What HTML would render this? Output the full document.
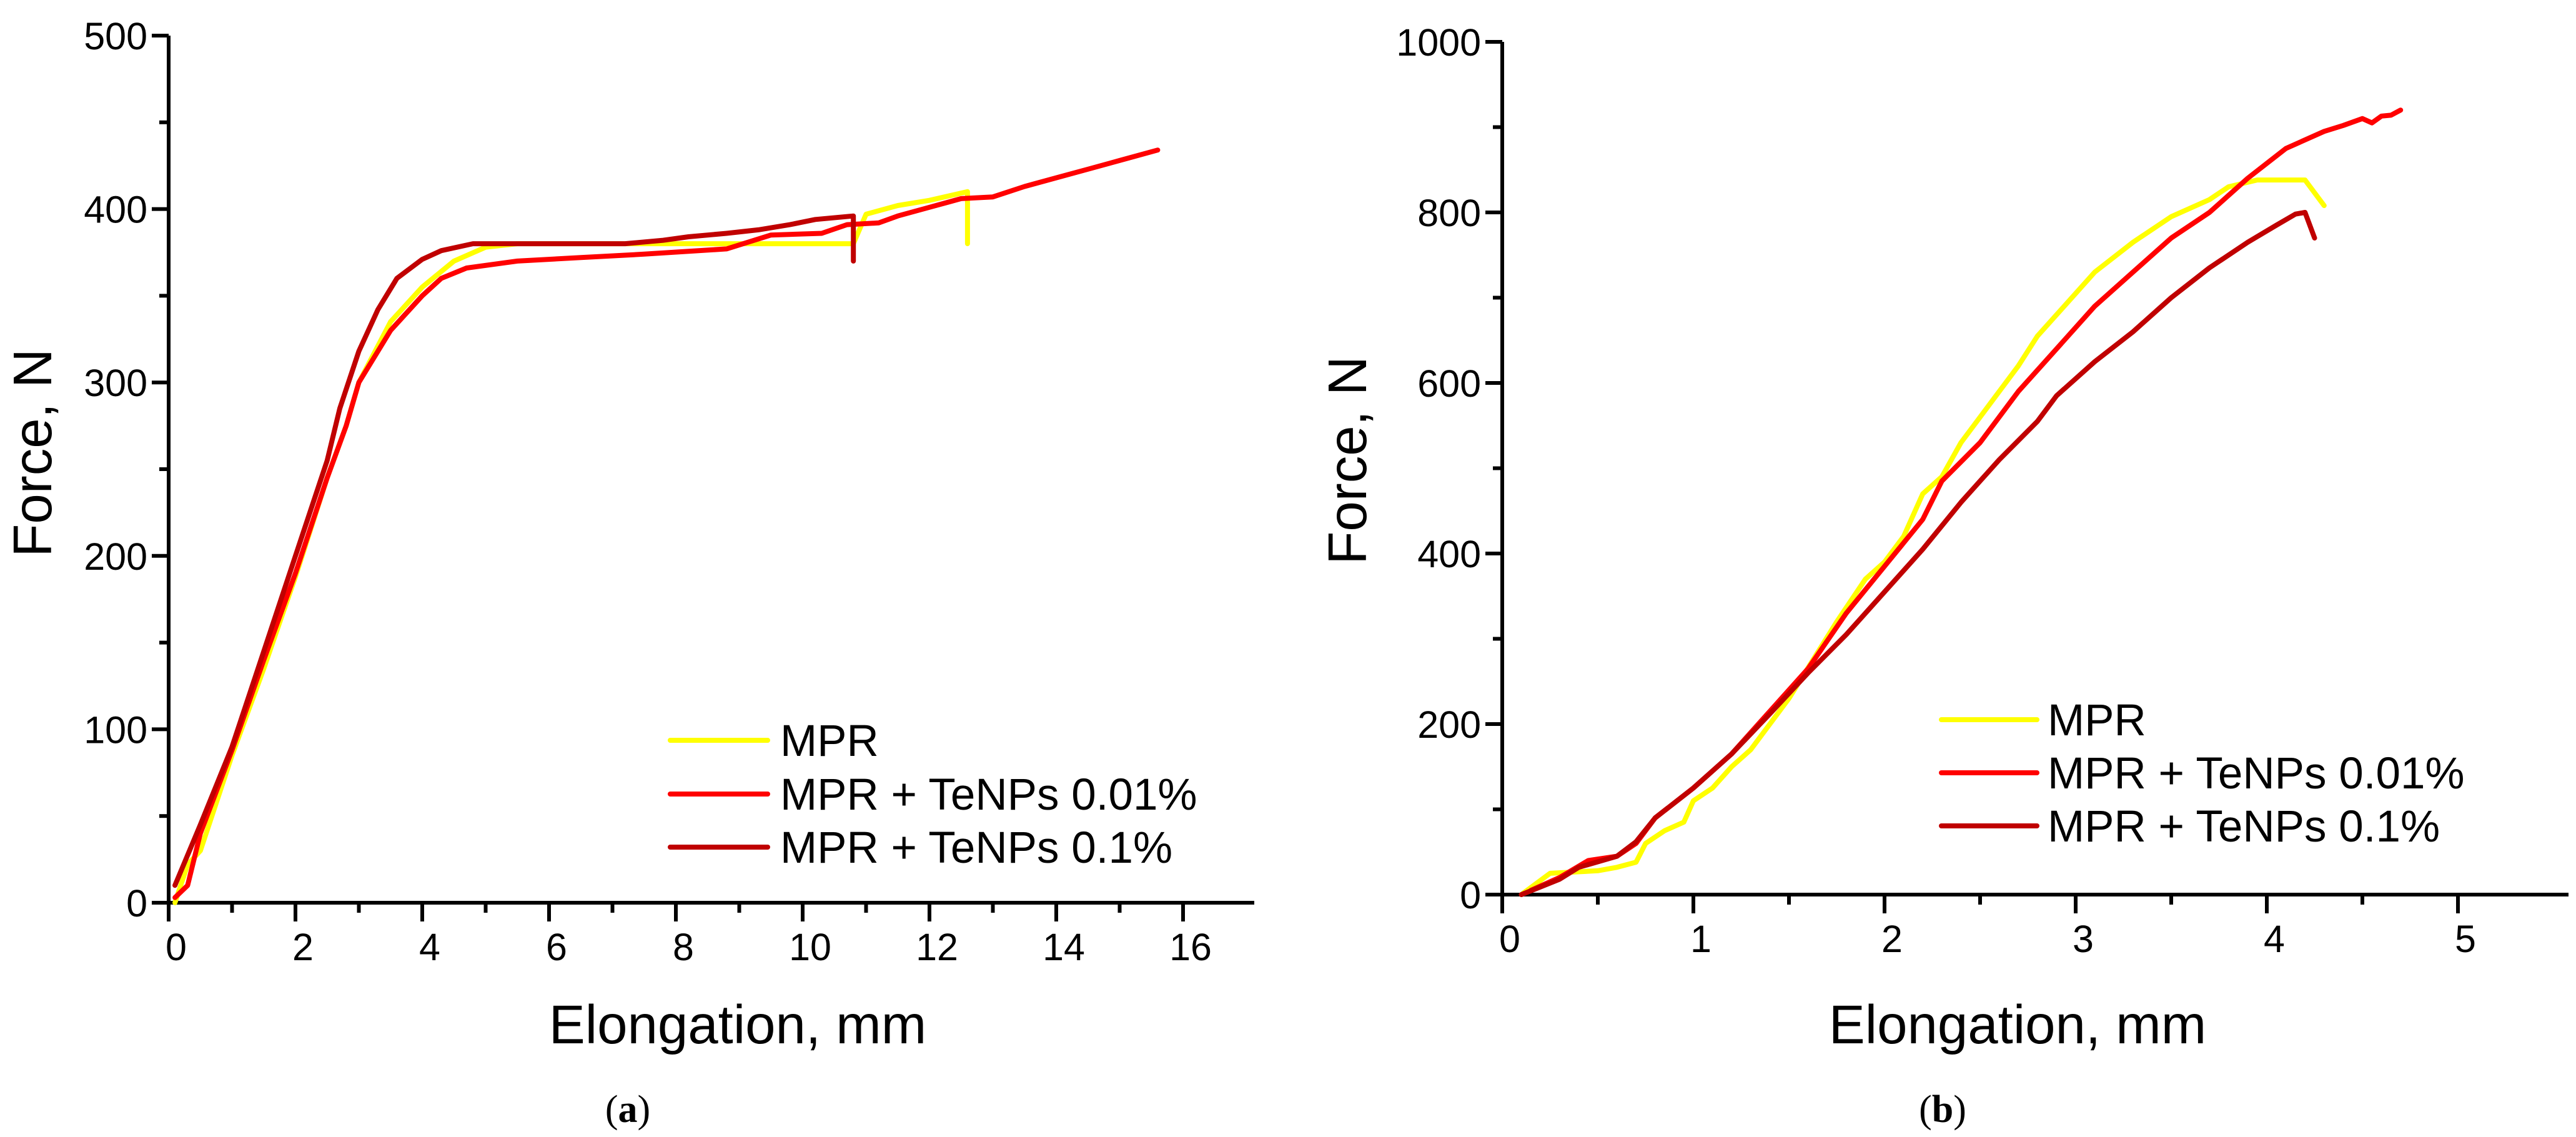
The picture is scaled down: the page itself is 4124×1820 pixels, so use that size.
<!DOCTYPE html>
<html><head><meta charset="utf-8"><style>
html,body{margin:0;padding:0;background:#fff;}
svg{display:block;font-family:"Liberation Sans",sans-serif;}
</style></head><body>
<svg id="fig" width="4124" height="1820" viewBox="0 0 4124 1820" xmlns="http://www.w3.org/2000/svg">
<g id="pa"></g>
<g id="pb"></g>
</svg>
<script>
// Panel (a) data
const aMprX=[0.1,0.3,0.5,1,1.5,2,2.5,2.8,3,3.5,4,4.5,5,5.5,10.8,11,11.5,12,12.6,12.6];
const aMprY=[0,22,30,85,135,188,245,275,300,335,355,370,378,380,380,397,402,405,410,380];
const aR1X=[0.1,0.3,0.5,1,1.5,2,2.5,2.8,3,3.5,4,4.3,4.7,5.5,6.5,7.5,8.8,9.5,10.3,10.7,11.2,11.5,12,12.5,13,13.5,14,14.5,15,15.6];
const aR1Y=[3,10,40,88,140,190,245,275,300,330,350,360,366,370,372,374,377,385,386,391,392,396,401,406,407,413,418,423,428,434];
const aR2X=[0.1,0.5,1,1.5,2,2.5,2.7,3,3.3,3.6,4,4.3,4.8,7.2,7.8,8.2,8.8,9.3,9.8,10.2,10.8,10.8];
const aR2Y=[10,45,90,145,200,255,285,318,342,360,371,376,380,380,382,384,386,388,391,394,396,370];
const aXTicks=[0,2,4,6,8,10,12,14,16];
const aYTicks=[0,100,200,300,400,500];
// Panel (b) data
const bMprX=[0.1,0.25,0.5,0.6,0.7,0.75,0.85,0.95,1,1.1,1.2,1.3,1.5,1.75,1.9,2,2.1,2.2,2.3,2.4,2.5,2.6,2.7,2.8,2.9,3,3.1,3.3,3.5,3.7,3.8,3.95,4.2,4.3];
const bMprY=[0,25,28,32,38,60,75,85,110,125,150,170,230,320,370,390,420,470,490,530,560,590,620,655,680,705,730,765,795,815,830,838,838,808];
const bR1X=[0.15,0.3,0.45,0.6,0.7,0.8,1,1.2,1.4,1.6,1.8,2,2.2,2.3,2.5,2.7,2.9,3.1,3.3,3.5,3.7,3.9,4.1,4.3,4.4,4.5,4.55,4.6,4.65,4.7];
const bR1Y=[5,20,40,45,60,90,125,165,215,265,330,385,440,485,530,590,640,690,730,770,800,840,875,895,902,910,905,913,914,920];
const bR2X=[0.1,0.3,0.4,0.6,0.7,0.8,1,1.2,1.4,1.6,1.8,2,2.2,2.4,2.6,2.8,2.9,3.1,3.3,3.5,3.7,3.9,4.05,4.15,4.2,4.25];
const bR2Y=[0,18,32,45,62,90,125,165,212,260,305,355,405,460,510,555,585,625,660,700,735,765,785,798,800,770];
const bXTicks=[0,1,2,3,4,5];
const bYTicks=[0,200,400,600,800,1000];
const legendNames=["MPR","MPR + TeNPs 0.01%","MPR + TeNPs 0.1%"];
const colors=["#ffff00","#ff0000","#c00000"];

const NS="http://www.w3.org/2000/svg";
function mk(parent,tag,attrs,text){const e=document.createElementNS(NS,tag);for(const k in attrs)e.setAttribute(k,attrs[k]);if(text!==undefined)e.textContent=text;parent.appendChild(e);return e;}

function panel(g,cfg){
  const sx=v=>cfg.x0+v*cfg.kx, sy=v=>cfg.y0-v*cfg.ky;
  let e=mk(g,'line',{x1:cfg.axL,y1:cfg.y0,x2:cfg.axR,y2:cfg.y0,stroke:'#000','stroke-width':6});
  
  
  e=mk(g,'line',{x1:cfg.x0,y1:sy(cfg.yT[cfg.yT.length-1]),x2:cfg.x0,y2:cfg.y0+30,stroke:'#000','stroke-width':6});
  
  
  cfg.xT.forEach((t,i)=>{
    const x=sx(t);
    e=mk(g,'line',{x1:x,y1:cfg.y0,x2:x,y2:cfg.y0+30,stroke:'#000','stroke-width':6});
    
    
    e=mk(g,'text',{x:x+12,y:cfg.y0+92,'font-size':61,'text-anchor':'middle'},String(t));
    
    
    if(i<cfg.xT.length-1){const m=(t+cfg.xT[i+1])/2;
      e=mk(g,'line',{x1:sx(m),y1:cfg.y0,x2:sx(m),y2:cfg.y0+16,stroke:'#000','stroke-width':6});
      
      }
  });
  cfg.yT.forEach((t,i)=>{
    const y=sy(t);
    e=mk(g,'line',{x1:cfg.x0-27,y1:y,x2:cfg.x0,y2:y,stroke:'#000','stroke-width':6});
    
    
    e=mk(g,'text',{x:cfg.x0-34,y:y+22,'font-size':61,'text-anchor':'end'},String(t));
    
    
    if(i<cfg.yT.length-1){const m=(t+cfg.yT[i+1])/2;
      e=mk(g,'line',{x1:cfg.x0-15,y1:sy(m),x2:cfg.x0,y2:sy(m),stroke:'#000','stroke-width':6});
      
      }
  });
  cfg.series.forEach((s,i)=>{
    const pts=s[0].map((x,j)=>sx(x).toFixed(1)+','+sy(s[1][j]).toFixed(1)).join(' ');
    e=mk(g,'polyline',{points:pts,fill:'none',stroke:colors[i],'stroke-width':8,'stroke-linejoin':'round','stroke-linecap':'round'});
    
    
  });
  legendNames.forEach((n,i)=>{
    const ly=cfg.legY[i];
    e=mk(g,'line',{x1:cfg.legX1,y1:ly,x2:cfg.legX2,y2:ly,stroke:colors[i],'stroke-width':8,'stroke-linecap':'round'});
    
    
    e=mk(g,'text',{x:cfg.legT,y:ly+25,'font-size':71},n);
    
    
  });
  e=mk(g,'text',{x:cfg.xtX,y:1670,'font-size':87,'text-anchor':'middle'},'Elongation, mm');
  
  
  e=mk(g,'text',{x:0,y:0,'font-size':87,'text-anchor':'middle',transform:`translate(${cfg.ytX},${cfg.ytY}) rotate(-90)`},'Force, N');
  
  
  e=mk(g,'text',{x:cfg.capX,y:1796,'font-size':62,'text-anchor':'middle','font-family':'Liberation Serif, serif'},'');
  
  
  mk(e,'tspan',{},'(');mk(e,'tspan',{'font-weight':'bold'},cfg.cap);mk(e,'tspan',{},')');
}
panel(document.getElementById('pa'),{x0:270,y0:1445,kx:101.5,ky:2.776,axL:243,axR:2008,xT:aXTicks,yT:aYTicks,
  series:[[aMprX,aMprY],[aR1X,aR1Y],[aR2X,aR2Y]],legY:[1185,1271,1356],legX1:1073,legX2:1229,legT:1249,
  xtX:1181,ytX:82,ytY:725,capX:1005,cap:'a'});
panel(document.getElementById('pb'),{x0:2405,y0:1432,kx:306,ky:1.365,axL:2378,axR:4112,xT:bXTicks,yT:bYTicks,
  series:[[bMprX,bMprY],[bR1X,bR1Y],[bR2X,bR2Y]],legY:[1152,1237,1322],legX1:3108,legX2:3261,legT:3278,
  xtX:3230,ytX:2187,ytY:737,capX:3110,cap:'b'});
</script>
</body></html>
